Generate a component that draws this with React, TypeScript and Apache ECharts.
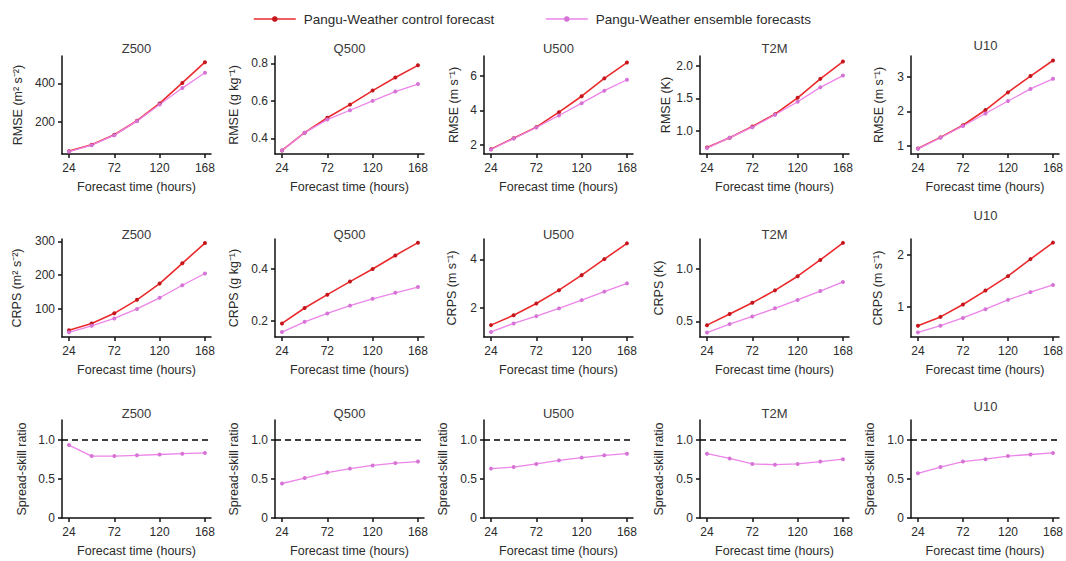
import { useEffect, useRef } from "react";
import * as echarts from "echarts";

// ---------- data ----------
const hours = [24, 48, 72, 96, 120, 144, 168];
const xTickValues = [24, 72, 120, 168];
const variables = ["Z500", "Q500", "U500", "T2M", "U10"];
const seriesNames = ["Pangu-Weather control forecast", "Pangu-Weather ensemble forecasts"];

const rmseZ500Control = [47, 80, 132, 205, 295, 402, 510];
const rmseZ500Ensemble = [45, 78, 130, 203, 290, 375, 455];
const rmseQ500Control = [0.335, 0.43, 0.51, 0.58, 0.655, 0.725, 0.79];
const rmseQ500Ensemble = [0.335, 0.43, 0.5, 0.55, 0.6, 0.65, 0.69];
const rmseU500Control = [1.77, 2.4, 3.04, 3.9, 4.82, 5.85, 6.76];
const rmseU500Ensemble = [1.75, 2.38, 3.02, 3.71, 4.42, 5.14, 5.77];
const rmseT2MControl = [0.75, 0.9, 1.07, 1.26, 1.51, 1.8, 2.065];
const rmseT2MEnsemble = [0.74, 0.9, 1.06, 1.25, 1.45, 1.67, 1.85];
const rmseU10Control = [0.93, 1.25, 1.6, 2.04, 2.55, 3.02, 3.47];
const rmseU10Ensemble = [0.92, 1.24, 1.58, 1.94, 2.3, 2.65, 2.94];

const crpsZ500Control = [37, 57, 87, 127, 175, 235, 295];
const crpsZ500Ensemble = [31, 50, 72, 100, 133, 170, 205];
const crpsQ500Control = [0.19, 0.249, 0.3, 0.35, 0.398, 0.45, 0.499];
const crpsQ500Ensemble = [0.157, 0.196, 0.228, 0.258, 0.284, 0.307, 0.329];
const crpsU500Control = [1.29, 1.7, 2.18, 2.73, 3.35, 4.01, 4.66];
const crpsU500Ensemble = [1.01, 1.36, 1.66, 1.98, 2.32, 2.67, 3.01];
const crpsT2MControl = [0.465, 0.572, 0.678, 0.797, 0.932, 1.087, 1.25];
const crpsT2MEnsemble = [0.394, 0.475, 0.548, 0.626, 0.706, 0.79, 0.877];
const crpsU10Control = [0.63, 0.8, 1.04, 1.31, 1.59, 1.92, 2.24];
const crpsU10Ensemble = [0.5, 0.63, 0.78, 0.95, 1.13, 1.28, 1.42];

const ssrZ500 = [0.93, 0.79, 0.79, 0.8, 0.81, 0.82, 0.83];
const ssrQ500 = [0.44, 0.51, 0.58, 0.63, 0.67, 0.7, 0.72];
const ssrU500 = [0.63, 0.65, 0.69, 0.735, 0.77, 0.8, 0.82];
const ssrT2M = [0.82, 0.76, 0.69, 0.68, 0.69, 0.72, 0.75];
const ssrU10 = [0.57, 0.65, 0.72, 0.75, 0.79, 0.81, 0.83];

const rmseTicks = [[200, 400], [0.4, 0.6, 0.8], [2, 4, 6], [1.0, 1.5, 2.0], [1, 2, 3]];
const crpsTicks = [[100, 200, 300], [0.2, 0.4], [2, 4], [0.5, 1.0], [1, 2]];
const ssrTicks = [0, 0.5, 1.0];

const units = ["m\u00B2 s\u207B\u00B2", "g kg\u207B\u00B9", "m s\u207B\u00B9", "K", "m s\u207B\u00B9"];

// ---------- layout / style ----------
const W = 1066;
const H = 561;
const FONT = "'Liberation Sans', Arial, Helvetica, sans-serif";
const TEXT = "#2b2b2b";
const colLeft = [62, 275, 484, 700, 911];
const gridW = 149;
const rowTop = [56, 239, 420];
const gridH = 98;
const xMin = 16.6;
const xMax = 174.4;
const rmseRange = [[32, 542], [0.316, 0.84], [1.49, 7.14], [0.65, 2.15], [0.77, 3.6]];
const crpsRange = [[17, 307], [0.138, 0.513], [0.8, 4.84], [0.352, 1.287], [0.41, 2.31]];
const ssrRange = [0, 1.25];
const nameGaps = [
  [37.5, 34.5, 24, 26.5, 25.5],
  [38.5, 34.5, 25.5, 34.5, 26.5],
  [33.5, 35, 34.5, 34.5, 35],
];
const titleY = [
  [48, 48, 48, 48, 45],
  [234, 234, 234, 234, 215],
  [413, 413, 413, 413, 406],
];
const decimals = [0, 1, 0, 1, 0];
const CONTROL_LINE = "#ea2a2c";
const CONTROL_DOT = "#c4161c";
const ENS_LINE = "#ec84ea";
const ENS_DOT = "#d674d6";

const rmseControl = [rmseZ500Control, rmseQ500Control, rmseU500Control, rmseT2MControl, rmseU10Control];
const rmseEnsemble = [rmseZ500Ensemble, rmseQ500Ensemble, rmseU500Ensemble, rmseT2MEnsemble, rmseU10Ensemble];
const crpsControl = [crpsZ500Control, crpsQ500Control, crpsU500Control, crpsT2MControl, crpsU10Control];
const crpsEnsemble = [crpsZ500Ensemble, crpsQ500Ensemble, crpsU500Ensemble, crpsT2MEnsemble, crpsU10Ensemble];
const ssrAll = [ssrZ500, ssrQ500, ssrU500, ssrT2M, ssrU10];

function pairs(vals: number[]) {
  return hours.map((h, i) => [h, vals[i]]);
}

function buildOption() {
  const grid: any[] = [];
  const xAxis: any[] = [];
  const yAxis: any[] = [];
  const series: any[] = [];
  const graphic: any[] = [];

  const axisCommon = {
    axisLine: { show: true, onZero: false, lineStyle: { color: "#111", width: 1.5 } },
    axisTick: { show: true, length: 4, lineStyle: { color: "#111", width: 1.5 } },
    splitLine: { show: false },
  };

  for (let r = 0; r < 3; r++) {
    for (let c = 0; c < 5; c++) {
      const idx = r * 5 + c;
      grid.push({ left: colLeft[c], top: rowTop[r], width: gridW, height: gridH });
      xAxis.push({
        type: "value",
        gridIndex: idx,
        min: xMin,
        max: xMax,
        ...axisCommon,
        axisTick: { ...axisCommon.axisTick, customValues: xTickValues },
        axisLabel: {
          customValues: xTickValues,
          margin: 8,
          fontSize: 12,
          color: TEXT,
          fontFamily: FONT,
        },
        name: "Forecast time (hours)",
        nameLocation: "middle",
        nameGap: 26,
        nameTextStyle: { fontSize: 12.5, color: TEXT, fontFamily: FONT },
      });
      const ticks = r === 0 ? rmseTicks[c] : r === 1 ? crpsTicks[c] : ssrTicks;
      const range = r === 0 ? rmseRange[c] : r === 1 ? crpsRange[c] : ssrRange;
      const name =
        r === 0 ? `RMSE (${units[c]})` : r === 1 ? `CRPS (${units[c]})` : "Spread-skill ratio";
      const dec = r === 2 ? 1 : decimals[c];
      yAxis.push({
        type: "value",
        gridIndex: idx,
        min: range[0],
        max: range[1],
        ...axisCommon,
        axisTick: { ...axisCommon.axisTick, customValues: ticks },
        axisLabel: {
          customValues: ticks,
          margin: 7,
          fontSize: 12,
          color: TEXT,
          fontFamily: FONT,
          formatter: (v: number) => (v === 0 ? "0" : v.toFixed(dec)),
        },
        name,
        nameLocation: "middle",
        nameGap: nameGaps[r][c],
        nameTextStyle: { fontSize: 12.5, color: TEXT, fontFamily: FONT },
      });

      if (r < 2) {
        const ctrl = r === 0 ? rmseControl[c] : crpsControl[c];
        const ens = r === 0 ? rmseEnsemble[c] : crpsEnsemble[c];
        series.push({
          name: seriesNames[0],
          type: "line",
          xAxisIndex: idx,
          yAxisIndex: idx,
          data: pairs(ctrl),
          symbol: "circle",
          symbolSize: 4,
          itemStyle: { color: CONTROL_DOT },
          lineStyle: { color: CONTROL_LINE, width: 1.6 },
        });
        series.push({
          name: seriesNames[1],
          type: "line",
          xAxisIndex: idx,
          yAxisIndex: idx,
          data: pairs(ens),
          symbol: "circle",
          symbolSize: 4,
          itemStyle: { color: ENS_DOT },
          lineStyle: { color: ENS_LINE, width: 1.3 },
        });
      } else {
        series.push({
          name: seriesNames[1],
          type: "line",
          xAxisIndex: idx,
          yAxisIndex: idx,
          data: pairs(ssrAll[c]),
          symbol: "circle",
          symbolSize: 4,
          itemStyle: { color: ENS_DOT },
          lineStyle: { color: ENS_LINE, width: 1.3 },
          markLine: {
            silent: true,
            symbol: ["none", "none"],
            label: { show: false },
            lineStyle: { type: [6, 4], color: "#000", width: 1.5 },
            data: [{ yAxis: 1 }],
          },
        });
      }

      graphic.push({
        type: "text",
        x: colLeft[c] + gridW / 2,
        y: titleY[r][c],
        style: {
          text: variables[c],
          fontSize: 13,
          fontWeight: "normal",
          fontFamily: FONT,
          fill: "#3a3a3a",
          textAlign: "center",
          textVerticalAlign: "middle",
        },
      });
    }
  }

  return {
    animation: false,
    backgroundColor: "#fff",
    legend: {
      data: [
        { name: seriesNames[0], itemStyle: { color: CONTROL_DOT }, lineStyle: { color: CONTROL_LINE, width: 1.6 } },
        { name: seriesNames[1], itemStyle: { color: ENS_DOT }, lineStyle: { color: ENS_LINE, width: 1.3 } },
      ],
      left: 253,
      top: 12,
      itemWidth: 42,
      itemHeight: 7,
      itemGap: 51,
      padding: 0,
      textStyle: { fontSize: 13.5, color: TEXT, fontFamily: FONT, padding: [0, 0, 0, 3] },
    },
    grid,
    xAxis,
    yAxis,
    series,
    graphic,
  };
}

export default function App() {
  const ref = useRef<HTMLDivElement>(null);
  useEffect(() => {
    document.body.style.margin = "0";
    if (!ref.current) return;
    const chart = echarts.init(ref.current, undefined, { renderer: "svg" });
    chart.setOption(buildOption() as any);
    return () => chart.dispose();
  }, []);
  return <div ref={ref} style={{ width: W, height: H }} />;
}
